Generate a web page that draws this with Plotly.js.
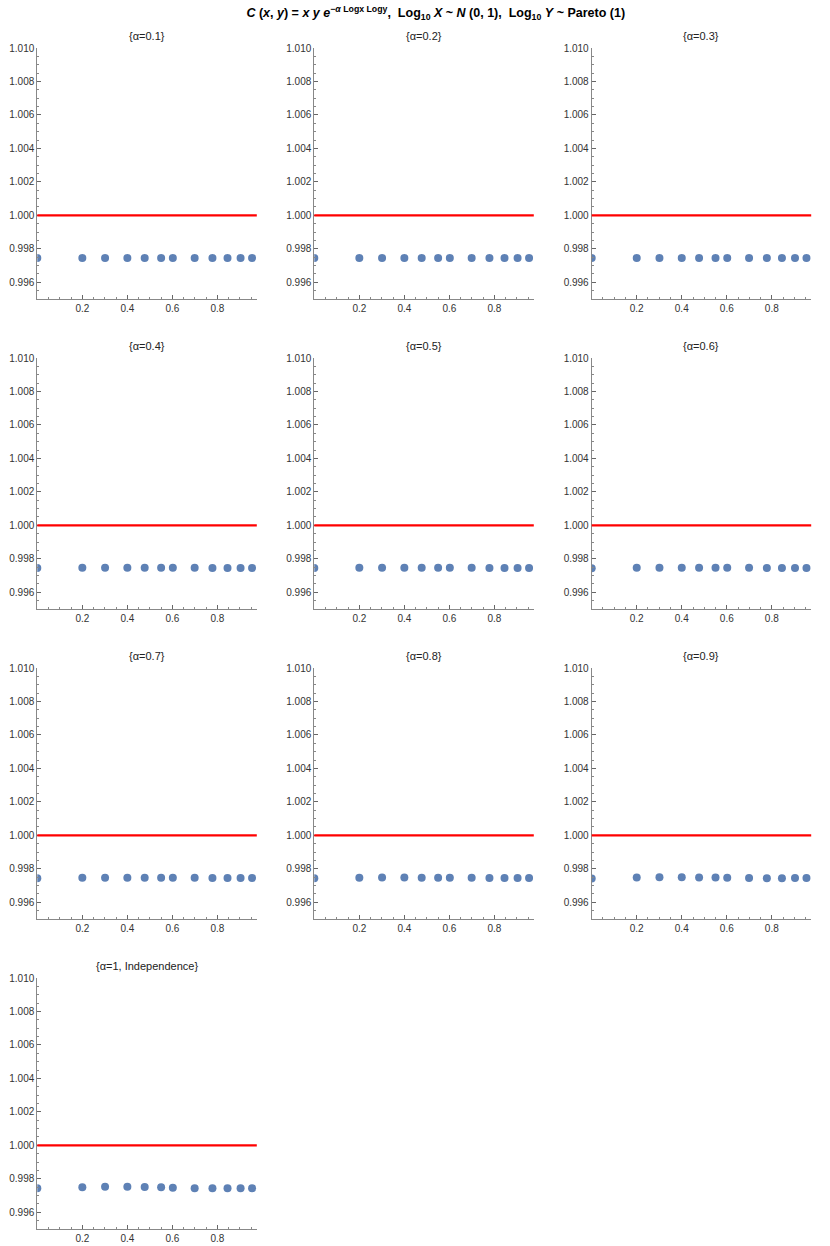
<!DOCTYPE html>
<html>
<head>
<meta charset="utf-8">
<script src="https://cdn.plot.ly/plotly-3.0.1.min.js"></script>
<style>
  html, body { margin: 0; padding: 0; background: #fff; }
  #plot { width: 830px; height: 1246px; }
</style>
</head>
<body>
<div id="plot"></div>
<script>
// x positions of the points (same in every panel)
const xs = [0, 0.2, 0.301, 0.4, 0.477, 0.55, 0.602, 0.699, 0.778, 0.845, 0.903, 0.954]

const panelTitles = ['{α=0.1}', '{α=0.2}', '{α=0.3}', '{α=0.4}', '{α=0.5}', '{α=0.6}',
    '{α=0.7}', '{α=0.8}', '{α=0.9}', '{α=1, Independence}']

const y01 = [0.99745, 0.99745, 0.99745, 0.99745, 0.99745, 0.99745, 0.99745, 0.99745, 0.99745, 0.99745, 0.99745, 0.99745]
const y02 = [0.99745, 0.99745, 0.99745, 0.99745, 0.99745, 0.99745, 0.99745, 0.99745, 0.99745, 0.99745, 0.99745, 0.99745]
const y03 = [0.99745, 0.99745, 0.99745, 0.99745, 0.99745, 0.99745, 0.99745, 0.99745, 0.99745, 0.99745, 0.99745, 0.99745]
const y04 = [0.99745, 0.99746, 0.99746, 0.99746, 0.99746, 0.99746, 0.99746, 0.99746, 0.99745, 0.99745, 0.99745, 0.99745]
const y05 = [0.99745, 0.99746, 0.99746, 0.99746, 0.99746, 0.99746, 0.99746, 0.99746, 0.99745, 0.99745, 0.99745, 0.99745]
const y06 = [0.99744, 0.99746, 0.99747, 0.99747, 0.99747, 0.99746, 0.99746, 0.99746, 0.99745, 0.99745, 0.99745, 0.99745]
const y07 = [0.99744, 0.99747, 0.99747, 0.99747, 0.99747, 0.99747, 0.99746, 0.99746, 0.99745, 0.99745, 0.99745, 0.99745]
const y08 = [0.99743, 0.99747, 0.99748, 0.99748, 0.99747, 0.99747, 0.99746, 0.99746, 0.99745, 0.99745, 0.99745, 0.99745]
const y09 = [0.99742, 0.99748, 0.99750, 0.99750, 0.99748, 0.99748, 0.99746, 0.99745, 0.99744, 0.99744, 0.99745, 0.99745]
const y10 = [0.99743, 0.99750, 0.99753, 0.99753, 0.99751, 0.99749, 0.99747, 0.99744, 0.99743, 0.99743, 0.99743, 0.99744]
const panelYs = [y01, y02, y03, y04, y05, y06, y07, y08, y09, y10]

const refLevel = 1.0

const W = 830, H = 1246
const colLeft = [37.3, 314.3, 591.7]
const axisW = 219.5
const rowTop = [48, 358, 668, 978]
const axisH = 250.5

const fontFam = '"Liberation Sans Narrow", "Liberation Sans", Arial, sans-serif'
const dotColor = '#5e81b5'

const traces = []
const layout = {
    width: W,
    height: H,
    margin: { l: 0, r: 0, t: 0, b: 0 },
    paper_bgcolor: '#ffffff',
    plot_bgcolor: '#ffffff',
    showlegend: false,
    font: { family: fontFam, size: 10, color: '#333' },
    title: {
        text: '<b><i>C</i> (<i>x</i>, <i>y</i>) = <i>x y e</i><sup>−<i>α</i> Logx Logy</sup>,  Log<sub>10</sub> <i>X</i> ~ <i>N</i> (0, 1),  Log<sub>10</sub> <i>Y</i> ~ Pareto (1)</b>',
        x: 0.525, xanchor: 'center',
        y: 1 - 13 / H, yanchor: 'middle',
        font: { family: fontFam, size: 12.5, color: '#000' }
    },
    shapes: [],
    annotations: []
}

panelYs.forEach((ys, i) => {
    const row = Math.floor(i / 3), col = i % 3
    const n = i + 1
    const xa = n == 1 ? 'x' : 'x' + n
    const ya = n == 1 ? 'y' : 'y' + n
    const x0 = colLeft[col] / W, x1 = (colLeft[col] + axisW) / W
    const yTop = 1 - rowTop[row] / H, yBot = 1 - (rowTop[row] + axisH) / H

    traces.push({
        type: 'scatter',
        mode: 'markers',
        x: xs,
        y: ys,
        xaxis: xa,
        yaxis: ya,
        marker: { color: dotColor, size: 8 },
        hoverinfo: 'x+y'
    })

    layout['xaxis' + (n == 1 ? '' : n)] = {
        domain: [x0, x1],
        anchor: ya,
        range: [0, 0.975],
        tickvals: [0.2, 0.4, 0.6, 0.8],
        ticktext: ['0.2', '0.4', '0.6', '0.8'],
        ticks: 'inside',
        ticklen: 4,
        tickcolor: '#666',
        minor: { dtick: 0.05, tick0: 0, ticks: 'inside', ticklen: 2, tickcolor: '#888' },
        showgrid: false,
        zeroline: false,
        showline: true,
        linecolor: '#888',
        linewidth: 1,
        tickfont: { family: fontFam, size: 10, color: '#333' },
        fixedrange: true
    }
    layout['yaxis' + (n == 1 ? '' : n)] = {
        domain: [yBot, yTop],
        anchor: xa,
        range: [0.99503, 1.0100],
        tickvals: [0.996, 0.998, 1.000, 1.002, 1.004, 1.006, 1.008, 1.010],
        ticktext: ['0.996', '0.998', '1.000', '1.002', '1.004', '1.006', '1.008', '1.010'],
        ticks: 'inside',
        ticklen: 4,
        tickcolor: '#666',
        minor: { dtick: 0.0005, tick0: 0.995, ticks: 'inside', ticklen: 2, tickcolor: '#888' },
        showgrid: false,
        zeroline: false,
        showline: true,
        linecolor: '#888',
        linewidth: 1,
        tickfont: { family: fontFam, size: 10, color: '#333' },
        fixedrange: true
    }

    // reference line at 1
    layout.shapes.push({
        type: 'line',
        xref: xa + ' domain',
        yref: ya,
        x0: 0, x1: 1,
        y0: refLevel, y1: refLevel,
        line: { color: '#ff0000', width: 2.2 }
    })

    layout.annotations.push({
        text: panelTitles[i],
        xref: 'paper', yref: 'paper',
        x: (x0 + x1) / 2, y: yTop + 12 / H,
        xanchor: 'center', yanchor: 'middle',
        showarrow: false,
        font: { family: fontFam, size: 11, color: '#222' }
    })
})

Plotly.newPlot(document.getElementById('plot'), traces, layout, { staticPlot: true })
</script>
</body>
</html>
